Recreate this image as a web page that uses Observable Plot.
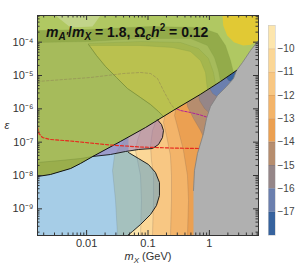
<!DOCTYPE html>
<html><head><meta charset="utf-8">
<script src="https://cdn.jsdelivr.net/npm/d3@7"></script>
<script src="https://cdn.jsdelivr.net/npm/@observablehq/plot@0.6"></script>
<style>
body{margin:0;background:#fff;}
#wrap{display:flex;width:300px;height:266px;background:#fff;}
svg{display:block;}
</style></head><body><div id="wrap"></div>
<script>
// All geometry in log10 units: [log10(m_X / GeV), log10(epsilon)]
const xDomainLog = [-2.8, 0.8];
const yDomainLog = [-9.8, -3.2];

// main black boundary (lower edge of green region)
const diagonal = [[-2.80,-8.03],[-2.59,-7.97],[-2.26,-7.79],[-2.10,-7.64],[-1.90,-7.43],[-1.45,-6.98],[-1.04,-6.56],[-0.59,-6.05],[-0.15,-5.57],[0.18,-5.18],[0.44,-4.85],[0.51,-4.73]];

// contour levels (log10 of the colour-bar quantity) and their boundary curves
const contourLevels = [-9,-10,-11,-12,-13,-14,-15,-16,-17];
const bandColors = ["#fde6ad","#fbd797","#f8c783","#f3b46a","#eba052","#b68d6e","#958688","#6b7fae","#37639e"];
const L1 = [[-1.497,-9.80],[-1.529,-8.75],[-1.578,-7.85],[-1.546,-7.40],[-1.448,-7.10],[-1.350,-6.89],[-1.253,-6.59]];
const L2 = [[-1.122,-9.80],[-1.106,-8.75],[-1.122,-8.00],[-1.171,-7.55],[-1.204,-7.25],[-1.171,-6.95],[-1.122,-6.68],[-1.073,-6.41]];
const L3 = [[-0.927,-9.80],[-0.910,-8.75],[-0.910,-8.00],[-0.943,-7.55],[-0.959,-7.10],[-0.927,-6.65],[-0.878,-6.41],[-0.829,-6.11]];
const L4 = [[-0.634,-9.80],[-0.617,-8.75],[-0.617,-8.00],[-0.634,-7.40],[-0.699,-6.80],[-0.748,-6.41],[-0.715,-6.11],[-0.666,-5.87]];
const L5 = [[-0.357,-9.80],[-0.340,-8.75],[-0.357,-8.00],[-0.422,-7.25],[-0.503,-6.65],[-0.568,-6.20],[-0.536,-5.93],[-0.471,-5.69]];
const L6 = [[-0.031,-7.10],[-0.145,-6.65],[-0.259,-6.29],[-0.357,-5.93],[-0.373,-5.75],[-0.340,-5.57]];
const L7 = [[0.100,-6.29],[-0.080,-5.99],[-0.161,-5.75],[-0.177,-5.57],[-0.145,-5.39]];
const L8 = [[0.214,-5.75],[0.051,-5.54],[0.002,-5.39],[0.034,-5.21]];
const L9 = [[0.474,-5.27],[0.311,-5.15],[0.262,-5.03],[0.295,-4.85]];
const contourLines = [L1,L2,L3,L4,L5,L6,L7,L8,L9];

// green (excluded) region: internal contour bands
const C3 = [[-2.80,-3.65],[-1.969,-3.62],[-0.959,-3.53],[-0.145,-3.56],[0.132,-3.74],[0.262,-4.10],[0.344,-4.55],[0.393,-4.91]];
const C2 = [[-2.80,-4.01],[-1.969,-3.98],[-1.122,-3.89],[-0.308,-3.89],[-0.031,-4.10],[0.083,-4.46],[0.148,-4.85],[0.181,-5.18]];
const C15 = [[-1.969,-4.04],[-1.122,-3.98],[-0.471,-4.01],[-0.177,-4.19],[-0.014,-4.49],[0.067,-4.91],[0.100,-5.27]];
const C1 = [[-1.953,-4.10],[-1.122,-4.10],[-0.601,-4.16],[-0.308,-4.28],[-0.145,-4.55],[-0.063,-4.91],[-0.031,-5.45]];
const Bline = [[-1.969,-4.07],[-1.839,-4.40],[-1.692,-4.73],[-1.513,-5.06],[-1.334,-5.39],[-1.122,-5.66],[-0.959,-5.87],[-0.829,-6.08],[-0.748,-6.23]];
const stripTop = [[-2.80,-7.61],[-2.425,-7.55],[-2.10,-7.49],[-1.90,-7.43]];
const lightPatch = [[-2.507,-3.20],[-1.774,-3.20],[-1.904,-3.53],[-2.262,-3.56]];
const yellowBlob = [[0.214,-3.20],[0.225,-3.50],[0.290,-3.80],[0.400,-4.00],[0.550,-4.10],[0.680,-4.08],[0.800,-3.95],[0.800,-3.20]];

// blue region and purple region
const blueEdge = [[-1.318,-7.31],[-1.155,-7.49],[-0.992,-7.67],[-0.878,-7.91],[-0.813,-8.21],[-0.813,-8.60],[-0.862,-8.90],[-0.959,-9.17],[-1.122,-9.47],[-1.253,-9.68],[-1.334,-9.80]];
const purpleEdge = [[-1.904,-7.43],[-1.611,-7.37],[-1.367,-7.28],[-1.155,-7.22],[-0.927,-7.19],[-0.829,-7.07],[-0.764,-6.86],[-0.748,-6.65],[-0.780,-6.47],[-0.845,-6.33]];

// gray region boundary
const grayEdge = [[0.800,-3.95],[0.670,-4.25],[0.539,-4.61],[0.442,-4.85],[0.393,-5.09],[0.279,-5.33],[0.132,-5.60],[0.018,-5.93],[-0.047,-6.29],[-0.096,-6.74],[-0.194,-7.34],[-0.243,-7.85],[-0.259,-8.45],[-0.259,-9.80]];

// dashed curves
const redDashed = [[-2.80,-6.56],[-2.776,-6.74],[-2.719,-6.86],[-2.588,-6.92],[-2.262,-6.965],[-2.018,-7.01],[-1.611,-7.085],[-1.122,-7.145],[-0.634,-7.175],[-0.177,-7.19]];
const magentaUpper = [[-2.80,-5.18],[-1.937,-5.06],[-1.399,-4.94],[-1.122,-4.91],[-0.959,-4.94],[-0.845,-5.09],[-0.748,-5.45],[-0.634,-5.84],[-0.585,-5.96]];
const magentaLower = [[-0.585,-5.96],[-0.471,-6.05],[-0.308,-6.11],[-0.145,-6.185],[-0.047,-6.245]];

// ticks and labels
const xMajor = [0.01, 0.1, 1];
const xLabels = ["0.01", "0.1", "1"];
const yMajor = [1e-9, 1e-8, 1e-7, 1e-6, 1e-5, 1e-4];
const yLabels = ["10⁻⁹","10⁻⁸","10⁻⁷","10⁻⁶","10⁻⁵","10⁻⁴"];
const cbBands = [[-10,-9],[-11,-10],[-12,-11],[-13,-12],[-14,-13],[-15,-14],[-16,-15],[-17,-16],[-18,-17]];
const cbTicks = [-10,-11,-12,-13,-14,-15,-16,-17];

const minorTicks = (lo, hi) => {
  const out = [];
  for (let e = Math.floor(lo); e <= Math.ceil(hi); e++)
    for (let m = 2; m <= 9; m++) { const v = m * 10 ** e; if (Math.log10(v) > lo && Math.log10(v) < hi) out.push(v); }
  return out;
};
const xMinor = minorTicks(...xDomainLog);
const yMinor = minorTicks(...yDomainLog);

const toPts = arr => arr.map(([lx, ly]) => ({x: 10 ** lx, y: 10 ** ly}));
const poly = (arr, fill, extra = {}) => Plot.line(toPts(arr), {x: "x", y: "y", fill, stroke: "none", clip: true, ...extra});
const path = (arr, stroke, extra = {}) => Plot.line(toPts(arr), {x: "x", y: "y", stroke, fill: "none", clip: true, ...extra});
const rev = a => a.slice().reverse();

const upperAll = [...diagonal, [0.8,-4.73], [0.8,-3.2], [-2.8,-3.2]];
const ridgePoly = [...C3, ...rev(diagonal.filter(p => p[0] < C3.at(-1)[0]))];
const midPoly = [...C2, ...rev(diagonal.filter(p => p[0] < C2.at(-1)[0] - 0.005))];
const band15Poly = [...C15, ...rev(diagonal.filter(p => p[0] < C15.at(-1)[0] && p[0] > Bline.at(-1)[0])), ...rev(Bline)];
const corePoly = [...C1, ...rev(diagonal.filter(p => p[0] < C1.at(-1)[0] && p[0] > Bline.at(-1)[0])), ...rev(Bline)];
const stripPoly = [...stripTop, ...rev(diagonal.filter(p => p[0] < -1.95))];
const bluePoly = [...diagonal.filter(p => p[0] < -1.4), [-1.318,-6.85], ...blueEdge, [-2.80,-9.80]];
const purplePoly = [...purpleEdge, ...rev(diagonal.filter(p => p[0] < -0.9 && p[0] > -1.85))];
const grayPoly = [...grayEdge, [0.8,-9.8]];

const W = 262, H = 266, mL = 37, mR = 4, mT = 15, mB = 31;
const fw = W - mL - mR, fh = H - mT - mB;
const font = "'Liberation Sans', Arial, sans-serif";

const marks = [
  ...contourLines.map((L, i) => poly([...L, [0.8,-3.2], [0.8,-9.8]], bandColors[i])),
  ...contourLines.map(L => path(L, "#7a6050", {strokeOpacity: 0.4, strokeWidth: 0.6})),
  path(magentaLower, "#b0209a", {strokeWidth: 1, strokeDasharray: "2.5,1.5"}),
  poly(upperAll, "#b0c862"),
  poly(ridgePoly, "#93ab4a"),
  poly(midPoly, "#a6bb5b"),
  poly(band15Poly, "#a4b64e"),
  poly(corePoly, "#bac14f"),
  poly(stripPoly, "#9aae4c"),
  poly(lightPatch, "#c2d48a"),
  poly(yellowBlob, "#e1c934"),
  path(C1, "#7f9a45", {strokeOpacity: 0.5, strokeWidth: 0.5}),
  path(C15, "#7f9a45", {strokeOpacity: 0.5, strokeWidth: 0.5}),
  path(C2, "#7f9a45", {strokeOpacity: 0.5, strokeWidth: 0.5}),
  path(C3, "#7f9a45", {strokeOpacity: 0.5, strokeWidth: 0.5}),
  path(stripTop, "#6d8636", {strokeOpacity: 0.6, strokeWidth: 0.6}),
  path(Bline, "#6d8636", {strokeOpacity: 0.85, strokeWidth: 0.8}),
  path(magentaUpper, "#8c7a55", {strokeOpacity: 0.6, strokeWidth: 0.8, strokeDasharray: "2.5,2"}),
  poly(bluePoly, "#4d9bd0", {fillOpacity: 0.5}),
  poly(purplePoly, "#9474b6", {fillOpacity: 0.55}),
  poly(grayPoly, "#b0b0b0"),
  path(grayEdge.slice(0, -1), "#7d7d7d", {strokeWidth: 0.8}),
  path(diagonal.slice(0, -1), "#111", {strokeWidth: 1}),
  path(purpleEdge, "#111", {strokeWidth: 0.9}),
  path(blueEdge, "#111", {strokeWidth: 0.9}),
  path(redDashed, "#e8281e", {strokeWidth: 1.2, strokeDasharray: "3,2"}),
  // inward ticks on all four sides
  Plot.tickX(xMajor, {x: d => d, insetTop: fh - 5, stroke: "#333"}),
  Plot.tickX(xMajor, {x: d => d, insetBottom: fh - 5, stroke: "#333"}),
  Plot.tickX(xMinor, {x: d => d, insetTop: fh - 2.5, stroke: "#333"}),
  Plot.tickX(xMinor, {x: d => d, insetBottom: fh - 2.5, stroke: "#333"}),
  Plot.tickY(yMajor, {y: d => d, insetRight: fw - 5, stroke: "#333"}),
  Plot.tickY(yMajor, {y: d => d, insetLeft: fw - 5, stroke: "#333"}),
  Plot.tickY(yMinor, {y: d => d, insetRight: fw - 2.5, stroke: "#333"}),
  Plot.tickY(yMinor, {y: d => d, insetLeft: fw - 2.5, stroke: "#333"}),
  Plot.frame({stroke: "#333"}),
  Plot.axisX(xMajor, {tickSize: 0, tickPadding: 4, fontSize: 11, fill: "#333", tickFormat: d => xLabels[xMajor.indexOf(d)]}),
  Plot.axisY(yMajor, {tickSize: 0, tickPadding: 4, fontSize: 11, fill: "#333", tickFormat: d => yLabels[yMajor.indexOf(d)]})
];

const main = Plot.plot({
  width: W, height: H, marginLeft: mL, marginRight: mR, marginTop: mT, marginBottom: mB,
  x: {type: "log", domain: xDomainLog.map(v => 10 ** v), label: null},
  y: {type: "log", domain: yDomainLog.map(v => 10 ** v), label: null},
  style: {fontFamily: font, fontSize: "10px", background: "white", overflow: "visible"},
  marks
});

// title annotation and axis labels
const svg = d3.select(main);
const sub = (t, s, italic, dy, size) => t.append("tspan").attr("font-style", italic ? "italic" : "normal").attr("dy", dy).attr("font-size", size).text(s);
const title = svg.append("text").attr("x", 46).attr("y", 36.5).attr("text-anchor", "start").attr("font-family", font)
  .attr("font-size", 14).attr("font-weight", "bold").attr("fill", "#111");
sub(title, "m", true, 0, 14); sub(title, "A′", true, 3.5, 10); sub(title, "/", false, -3.5, 14);
sub(title, "m", true, 0, 14); sub(title, "X", true, 3.5, 10); sub(title, " = 1.8, Ω", false, -3.5, 14);
sub(title, "c", true, 3.5, 10); sub(title, "h", true, -3.5, 14); sub(title, "2", false, -5.5, 10);
sub(title, " = 0.12", false, 5.5, 14);

const xl = svg.append("text").attr("x", 148).attr("y", 260).attr("text-anchor", "middle")
  .attr("font-family", font).attr("font-size", 11).attr("fill", "#333");
sub(xl, "m", true, 0, 11); sub(xl, "X", true, 2.5, 8); sub(xl, " (GeV)", false, -2.5, 11);
svg.append("text").attr("x", 7).attr("y", 129).attr("text-anchor", "middle")
  .attr("font-family", font).attr("font-size", 11).attr("font-style", "italic").attr("fill", "#333").text("ε");

// colour bar
const bar = Plot.plot({
  width: 38, height: H, marginLeft: 6, marginRight: 25, marginTop: 25, marginBottom: 31,
  x: {domain: [0, 1], axis: null},
  y: {domain: [-18, -9], axis: null},
  style: {fontFamily: font, fontSize: "10px", background: "white", overflow: "visible"},
  marks: [
    Plot.rect(cbBands, {x1: 0, x2: 1, y1: d => d[0], y2: d => d[1], fill: (d, i) => bandColors[i]}),
    Plot.ruleY(cbTicks, {y: d => d, stroke: "#000", strokeOpacity: 0.08}),
    Plot.frame({stroke: "#ccc", strokeWidth: 0.6}),
    Plot.axisY(cbTicks, {anchor: "right", tickSize: 0, tickPadding: 2, fontSize: 10, fill: "#444"})
  ]
});

const wrap = document.getElementById("wrap");
wrap.appendChild(main);
wrap.appendChild(bar);
</script>
</body></html>
